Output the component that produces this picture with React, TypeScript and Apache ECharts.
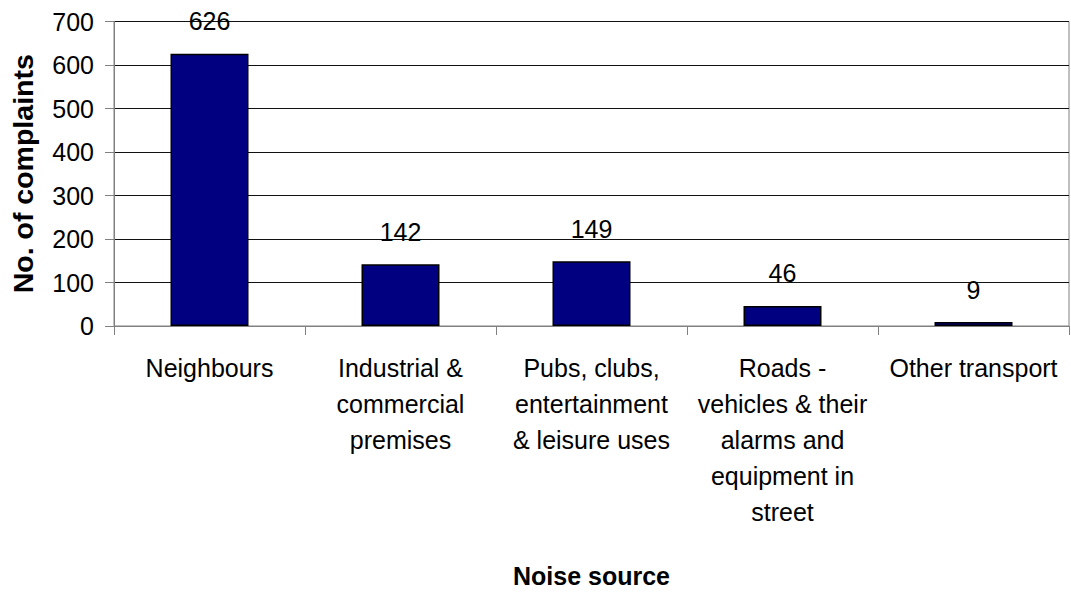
import React, { useEffect, useRef } from "react";
import * as echarts from "echarts";

const categories = [
  "Neighbours",
  "Industrial &\ncommercial\npremises",
  "Pubs, clubs,\nentertainment\n& leisure uses",
  "Roads -\nvehicles & their\nalarms and\nequipment in\nstreet",
  "Other transport",
];
const complaints = [626, 142, 149, 46, 9];
const yTicks = { min: 0, max: 700, interval: 100 };

const FONT = "'Liberation Sans', Arial, sans-serif";

export default function App() {
  const ref = useRef<HTMLDivElement>(null);
  useEffect(() => {
    if (!ref.current) return;
    const chart = echarts.init(ref.current, null, { renderer: "svg" });
    chart.setOption({
      animation: false,
      backgroundColor: "#ffffff",
      grid: {
        left: 112,
        right: 2,
        top: 21.5,
        bottom: 269,
        show: true,
        borderColor: "#808080",
        borderWidth: 1,
      },
      xAxis: {
        type: "category",
        data: categories,
        name: "Noise source",
        nameLocation: "middle",
        nameGap: 237,
        nameTextStyle: { fontFamily: FONT, fontSize: 25, fontWeight: "bold", color: "#000" },
        axisLine: { lineStyle: { color: "#808080", width: 1 } },
        axisTick: { show: true, length: 9, lineStyle: { color: "#808080" } },
        axisLabel: {
          interval: 0,
          margin: 24,
          fontFamily: FONT,
          fontSize: 25,
          lineHeight: 36,
          color: "#000",
          align: "center",
        },
      },
      yAxis: {
        type: "value",
        min: yTicks.min,
        max: yTicks.max,
        interval: yTicks.interval,
        name: "No. of complaints",
        nameLocation: "middle",
        nameGap: 77,
        nameTextStyle: { fontFamily: FONT, fontSize: 28.5, fontWeight: "bold", color: "#000" },
        axisLine: { show: true, lineStyle: { color: "#808080", width: 1 } },
        axisTick: { show: true, length: 9, lineStyle: { color: "#808080" } },
        axisLabel: { margin: 20, fontFamily: FONT, fontSize: 25, color: "#000" },
        splitLine: { show: true, lineStyle: { color: "#111", width: 1 } },
      },
      series: [
        {
          type: "bar",
          data: complaints,
          barWidth: 78,
          itemStyle: { color: "#000080", borderColor: "#000", borderWidth: 1.5 },
          label: {
            show: true,
            position: "top",
            distance: 20,
            fontFamily: FONT,
            fontSize: 25,
            color: "#000",
          },
        },
      ],
    });
    return () => chart.dispose();
  }, []);
  return (
    <div
      ref={ref}
      style={{ position: "fixed", left: 0, top: 0, width: 1071, height: 595, background: "#fff" }}
    />
  );
}
